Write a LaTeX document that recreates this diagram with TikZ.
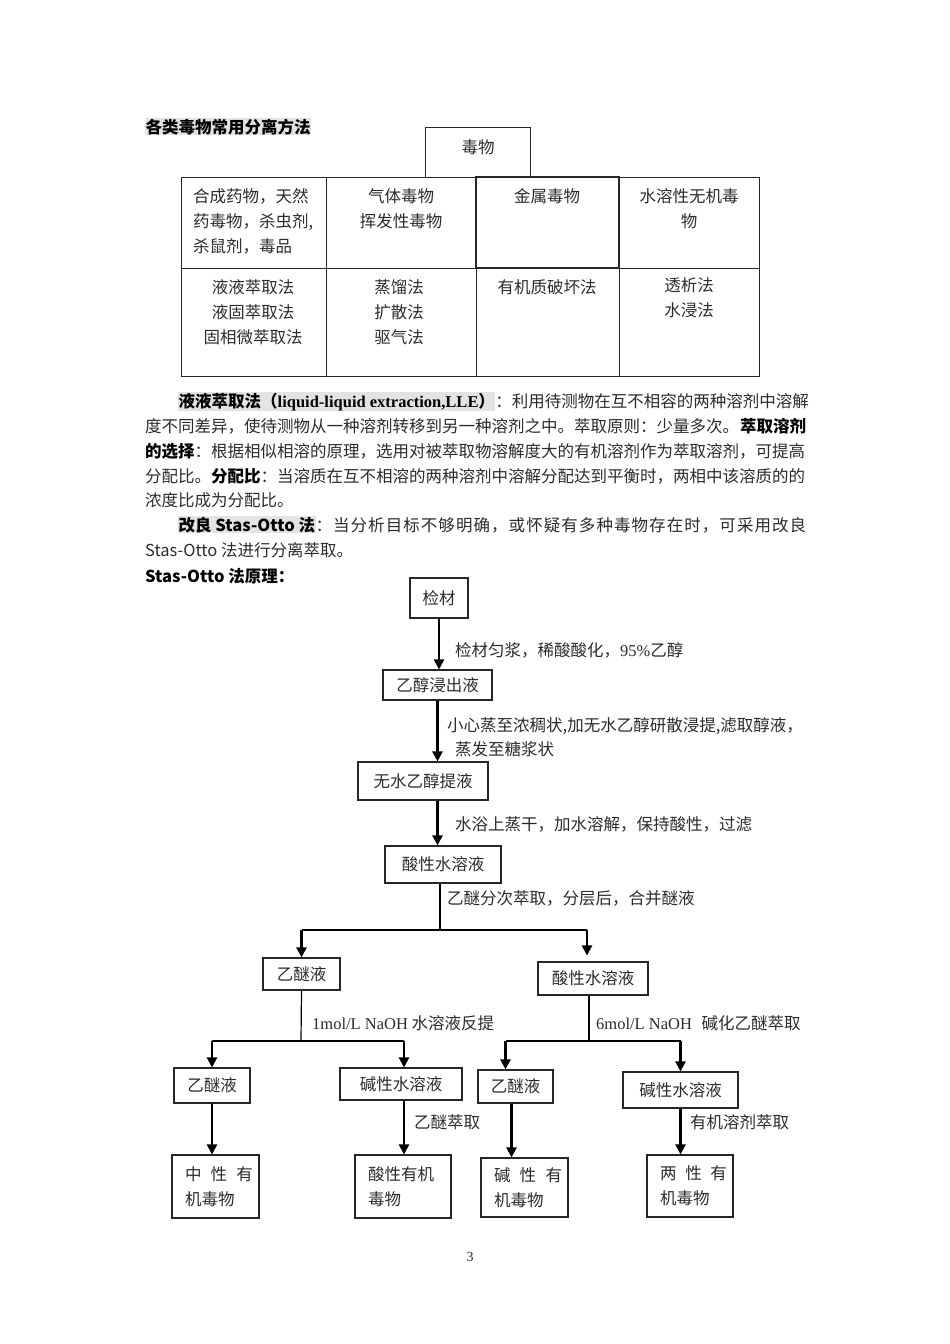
\documentclass[tikz,border=0pt]{standalone}
\usepackage{fontspec}
\setmainfont{Noto Sans CJK SC}
\newfontfamily\tnr{Liberation Serif}
\usetikzlibrary{positioning,arrows.meta}

\definecolor{hlgray}{gray}{0.89}
\definecolor{ink}{gray}{0.17}
\newcommand\hl[1]{{\setlength\fboxsep{0.5pt}\colorbox{hlgray}{#1}}}
\def\spreadloop#1{\ifx\relax#1\else#1\hskip 0pt plus 1fil\expandafter\spreadloop\fi}
\newcommand\spreadchars[1]{\spreadloop#1\relax\unskip}

\begin{document}
\begin{tikzpicture}[x=1pt,y=-1pt,
    every node/.style={font=\fontsize{16.5}{25}\selectfont, text=ink, inner sep=0pt},
    cell/.style={draw=black!85, line width=0.9pt},
    flowbox/.style={draw=black!85, line width=1.1pt},
    arr/.style={line width=2.2pt, -{Triangle[width=10pt,length=10pt]}},
    thinline/.style={line width=1.2pt},
    bodyline/.style={anchor=base west}]
        \useasboundingbox (0,0) rectangle (950,1344);

        % Table
        \node[bodyline, text=black] (title) at (145,133) {\hl{\bfseries 各类毒物常用分离方法}};
        \draw[cell] (425,127) rectangle (530,177);
        \node (c0) at (478,147) {毒物};
        \draw[cell] (181,177) rectangle (326,268);
        \draw[cell] (326,177) rectangle (476,268);
        \draw[cell, line width=1.4pt] (476,177) rectangle (619,268);
        \draw[cell] (619,177) rectangle (759,268);
        \draw[cell] (181,268) rectangle (326,376);
        \draw[cell] (326,268) rectangle (476,376);
        \draw[cell] (476,268) rectangle (619,376);
        \draw[cell] (619,268) rectangle (759,376);
        \node[anchor=north west, align=left] (t11) at (193,188) {合成药物，天然\\药毒物，杀虫剂,\\杀鼠剂，毒品};
        \node[anchor=north, align=center] (t12) at (401,188) {气体毒物\\挥发性毒物};
        \node[anchor=north, align=center] (t13) at (547,188) {金属毒物};
        \node[anchor=north, align=center] (t14) at (689,188) {水溶性无机毒\\物};
        \node[anchor=north, align=center] (t21) at (253,279) {液液萃取法\\液固萃取法\\固相微萃取法};
        \node[anchor=north, align=center] (t22) at (399,279) {蒸馏法\\扩散法\\驱气法};
        \node[anchor=north, align=center] (t23) at (547,279) {有机质破坏法};
        \node[anchor=north, align=center] (t24) at (689,277) {透析法\\水浸法};

        % Text
        \node[bodyline] (p1) at (178,407) {\hbox to 628pt{\hl{\color{black}\bfseries 液液萃取法（{\tnr\bfseries liquid-liquid extraction,LLE}）}\hfill ：利用待测物在互不相容的两种溶剂中溶解}};
        \node[bodyline] (p2) at (145,432) {\hbox to 661pt{度不同差异，使待测物从一种溶剂转移到另一种溶剂之中。萃取原则：少量多次。\hfill{\color{black}\bfseries 萃取溶剂}}};
        \node[bodyline] (p3) at (145,457) {\hbox to 661pt{{\color{black}\bfseries 的选择}：根据相似相溶的原理，选用对被萃取物溶解度大的有机溶剂作为萃取溶剂，可提高\hfill}};
        \node[bodyline] (p4) at (145,482) {\hbox to 661pt{分配比。{\color{black}\bfseries 分配比}：当溶质在互不相溶的两种溶剂中溶解分配达到平衡时，两相中该溶质的的\hfill}};
        \node[bodyline] (p5) at (145,506) {浓度比成为分配比。};
        \node[bodyline] (p6) at (178,531) {\hbox to 628pt{\hl{\color{black}\bfseries 改良 Stas-Otto 法}\spreadchars{：当分析目标不够明确，或怀疑有多种毒物存在时，可采用改良}}};
        \node[bodyline] (p7) at (145,556) {Stas-Otto 法进行分离萃取。};
        \node[bodyline, text=black] (p8) at (145,582) {\bfseries Stas-Otto 法原理：};

        % Flow chart
        \node[flowbox, minimum width=58, minimum height=40] (jc) at (439,598) {检材};
        \node[flowbox, minimum width=109, minimum height=30] (yc) at (437.5,685) {乙醇浸出液};
        \node[flowbox, minimum width=130, minimum height=38] (wc) at (423,781) {无水乙醇提液};
        \node[flowbox, minimum width=116, minimum height=37] (sx) at (443,864.5) {酸性水溶液};
        \node[flowbox, minimum width=77, minimum height=32] (ym) at (301.5,974) {乙醚液};
        \node[flowbox, minimum width=110, minimum height=33] (sx2) at (593,978.5) {酸性水溶液};
        \node[flowbox, minimum width=76, minimum height=35] (ym2) at (212,1085.5) {乙醚液};
        \node[flowbox, minimum width=122, minimum height=32] (jx) at (401,1084) {碱性水溶液};
        \node[flowbox, minimum width=75, minimum height=33] (ym3) at (515.5,1086.5) {乙醚液};
        \node[flowbox, minimum width=115, minimum height=36] (jx2) at (680.5,1090) {碱性水溶液};
        \node[flowbox, minimum height=63, inner xsep=13, text width=61, align=left] (zx) at (215.5,1186.5) {\makebox[68pt][s]{\spreadchars{中性有}}\\机毒物};
        \node[flowbox, minimum height=63, inner xsep=13, text width=70, align=left] (sy) at (403,1186.5) {酸性有机\\毒物};
        \node[flowbox, minimum height=59, inner xsep=13, text width=61, align=left] (jy) at (524.5,1187.5) {\makebox[68pt][s]{\spreadchars{碱性有}}\\机毒物};
        \node[flowbox, minimum height=62, inner xsep=13, text width=60, align=left] (lx) at (690,1186) {\makebox[67pt][s]{\spreadchars{两性有}}\\机毒物};

        % Labels
        \node[bodyline] (l1) at (455,656) {检材匀浆，稀酸酸化，{\tnr 95\%}乙醇};
        \node[bodyline] (l2) at (447,731) {小心蒸至浓稠状,加无水乙醇研散浸提,滤取醇液，};
        \node[bodyline] (l3) at (455,755) {蒸发至糖浆状};
        \node[bodyline] (l4) at (455,830) {水浴上蒸干，加水溶解，保持酸性，过滤};
        \node[bodyline] (l5) at (447,904) {乙醚分次萃取，分层后，合并醚液};
        \node[bodyline] (l6) at (312,1029) {{\tnr 1mol/L NaOH} 水溶液反提};
        \node[bodyline] (l7) at (596,1029) {{\tnr 6mol/L NaOH}\hspace{6pt} 碱化乙醚萃取};
        \node[bodyline] (l8) at (414,1128) {乙醚萃取};
        \node[bodyline] (l9) at (690,1128) {有机溶剂萃取};

        % Connectors
        \coordinate (sp1) at (440,930);
        \coordinate (sp2) at (301,1041);
        \coordinate (sp3) at (589,1041);
        \draw[arr] (jc.south) -- (jc.south |- yc.north);
        \draw[arr] (yc.south) -- (yc.south |- wc.north);
        \draw[arr] (yc.south |- wc.south) -- (yc.south |- sx.north);
        \draw[thinline] (sp1 |- sx.south) -- (sp1);
        \draw[thinline] (ym.north |- sp1) -- ([xshift=-6]sx2.north |- sp1);
        \draw[arr] (ym.north |- sp1) -- (ym.north);
        \draw[arr] ([xshift=-6]sx2.north |- sp1) -- ([xshift=-6,yshift=6]sx2.north);
        \draw[thinline] (ym.south) -- (sp2);
        \draw[thinline] (ym2.north |- sp2) -- ([xshift=3]jx.north |- sp2);
        \draw[arr] (ym2.north |- sp2) -- (ym2.north);
        \draw[arr] ([xshift=3]jx.north |- sp2) -- ([xshift=3]jx.north);
        \draw[thinline] (sp3 |- sx2.south) -- (sp3);
        \draw[thinline] ([xshift=-10]ym3.north |- sp3) -- (jx2.north |- sp3);
        \draw[arr] ([xshift=-10]ym3.north |- sp3) -- ([xshift=-10]ym3.north);
        \draw[arr] (jx2.north |- sp3) -- (jx2.north);
        \draw[arr] (ym2.south) -- (ym2.south |- zx.north);
        \draw[arr] ([xshift=3]jx.south) -- ([xshift=3]jx.south |- sy.north);
        \draw[arr] ([xshift=-4]ym3.south) -- ([xshift=-4]ym3.south |- jy.north);
        \draw[arr] (jx2.south) -- (jx2.south |- lx.north);

        \node[font=\tnr\fontsize{14}{16}\selectfont] (pg) at (470,1257) {3};
\end{tikzpicture}
\end{document}
